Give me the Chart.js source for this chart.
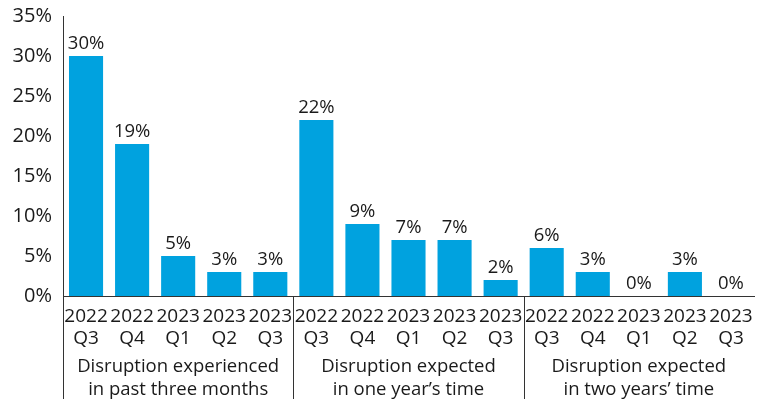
<!DOCTYPE html>
<html>
<head>
<meta charset="utf-8">
<script src="https://cdn.jsdelivr.net/npm/chart.js@4.4.1/dist/chart.umd.min.js"></script>
<style>
  html, body { margin: 0; padding: 0; background: #fff; }
  #wrap { width: 766px; height: 399px; position: relative; }
</style>
</head>
<body>
<div id="wrap"><canvas id="chart"></canvas></div>
<script>
// quarters shown under each bar, repeated per group
const quarters = [
  ['2022', 'Q3'], ['2022', 'Q4'], ['2023', 'Q1'], ['2023', 'Q2'], ['2023', 'Q3']
];
const groups = [
  ['Disruption experienced', 'in past three months'],
  ['Disruption expected', 'in one year\u2019s time'],
  ['Disruption expected', 'in two years\u2019 time']
];
const pastThreeMonths = [30, 19, 5, 3, 3];
const oneYear = [22, 9, 7, 7, 2];
const twoYears = [6, 3, 0, 3, 0];
const yTicks = [0, 5, 10, 15, 20, 25, 30, 35];

const FONT = '"Open Sans", "Noto Sans", sans-serif';
const TEXT = '#1a1a1a';
const AXIS = '#333333';

const labels = [];
groups.forEach(() => quarters.forEach(q => labels.push(q)));
const values = pastThreeMonths.concat(oneYear, twoYears);

// value labels above bars
const valueLabels = {
  id: 'valueLabels',
  afterDatasetsDraw(chart) {
    const ctx = chart.ctx;
    const meta = chart.getDatasetMeta(0);
    ctx.save();
    ctx.font = '18.5px ' + FONT;
    ctx.fillStyle = TEXT;
    ctx.textAlign = 'center';
    ctx.textBaseline = 'alphabetic';
    meta.data.forEach((bar, i) => {
      ctx.fillText(values[i] + '%', bar.x, bar.y - 7);
    });
    ctx.restore();
  }
};

// group captions and separators under the x axis
const groupCaptions = {
  id: 'groupCaptions',
  afterDraw(chart) {
    const ctx = chart.ctx;
    const x = chart.scales.x;
    const area = chart.chartArea;
    const per = quarters.length;
    const step = x.getPixelForValue(1) - x.getPixelForValue(0);
    ctx.save();
    ctx.strokeStyle = AXIS;
    ctx.lineWidth = 1;
    for (let g = 0; g < groups.length; g++) {
      const px = Math.round(x.getPixelForValue(g * per) - step / 2) + 0.5;
      ctx.beginPath();
      ctx.moveTo(px, area.bottom);
      ctx.lineTo(px, chart.height);
      ctx.stroke();
    }
    ctx.font = '18.5px ' + FONT;
    ctx.fillStyle = TEXT;
    ctx.textAlign = 'center';
    ctx.textBaseline = 'alphabetic';
    groups.forEach((lines, g) => {
      const cx = (x.getPixelForValue(g * per) + x.getPixelForValue(g * per + per - 1)) / 2;
      ctx.fillText(lines[0], cx, 372);
      ctx.fillText(lines[1], cx, 395);
    });
    ctx.restore();
  }
};

new Chart(document.getElementById('chart'), {
  type: 'bar',
  data: {
    labels: labels,
    datasets: [{
      data: values,
      backgroundColor: '#00a2df',
      borderWidth: 0,
      barPercentage: 0.74,
      categoryPercentage: 1
    }]
  },
  options: {
    responsive: true,
    maintainAspectRatio: false,
    animation: false,
    layout: { padding: { top: 16, right: 12, left: 0, bottom: 0 } },
    plugins: { legend: { display: false }, tooltip: { enabled: false } },
    scales: {
      x: {
        grid: { display: false },
        border: { display: true, color: AXIS, width: 1 },
        ticks: {
          color: TEXT,
          font: { family: FONT, size: 19, lineHeight: 1.16 },
          maxRotation: 0,
          autoSkip: false,
          padding: 2
        },
        afterFit(scale) { scale.height = 103; }
      },
      y: {
        min: 0,
        max: 35,
        grid: { display: false },
        border: { display: true, color: AXIS, width: 1 },
        afterBuildTicks(scale) { scale.ticks = yTicks.map(v => ({ value: v })); },
        ticks: {
          color: TEXT,
          font: { family: FONT, size: 20 },
          padding: 3,
          callback: v => v + '%'
        },
        afterFit(scale) { scale.width = 63; scale.paddingTop = 0; }
      }
    }
  },
  plugins: [valueLabels, groupCaptions]
});
</script>
</body>
</html>
